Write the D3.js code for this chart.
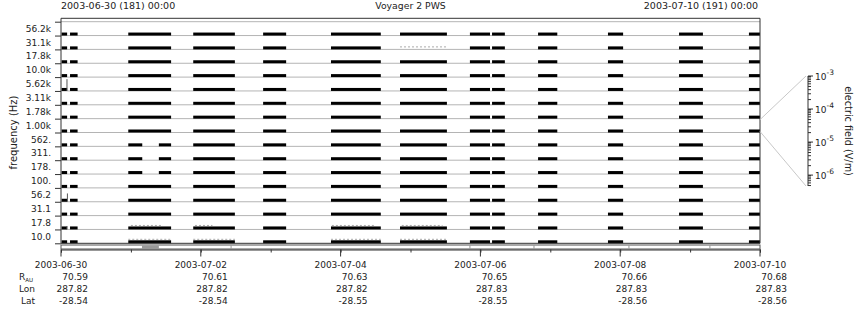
<!DOCTYPE html>
<html><head><meta charset="utf-8">
<script src="https://cdn.jsdelivr.net/npm/d3@7"></script>
<style>
body{margin:0;background:#fff;}
svg{display:block;}
text{font-family:"DejaVu Sans",sans-serif;fill:#222;}
</style></head>
<body><svg id="c" width="860" height="320"></svg>
<script>
// ---------------- data ----------------
const channels = ["56.2k","31.1k","17.8k","10.0k","5.62k","3.11k","1.78k","1.00k","562.","311.","178.","100.","56.2","31.1","17.8","10.0"];
const startTime = "2003-06-30T00:00:00Z";
const endTime = "2003-07-10T00:00:00Z";
const headerLeft = "2003-06-30 (181) 00:00";
const headerRight = "2003-07-10 (191) 00:00";
const title = "Voyager 2 PWS";
// data segments (hours since start) at background level
const segStart = [0.2, 3.1, 23.1, 45.4, 69.4, 92.7, 116.4, 140.4, 148.0, 163.8, 187.8, 212.2, 236.2];
const segEnd   = [2.1, 5.7, 37.8, 59.7, 77.3, 109.8, 132.5, 147.3, 152.4, 170.4, 193.0, 220.4, 240.0];
// channels with a data gap inside the third block
const gapChannels = ["562.","311.","178."];
const gapHours = [27.9, 33.6];
// segments shown as faint dotted (slightly raised) traces
const faintChannel = ["31.1k","17.8","17.8","17.8","17.8","10.0","10.0","10.0","10.0"];
const faintStart   = [116.4, 24.0, 46.0, 93.0, 117.0, 23.1, 45.4, 92.7, 116.4];
const faintEnd     = [132.5, 35.0, 52.0, 108.0, 131.0, 37.8, 59.7, 109.8, 132.5];
const replacedChannel = "31.1k"; const replacedSeg = 6;
// spikes: channel, hour, fraction of band height
const spikeChannel = ["5.62k","56.2","17.8"];
const spikeHour = [2.05, 2.2, 2.05];
const spikeFrac = [0.85, 0.6, 0.25];
// bottom axis info
const dateTicks = ["2003-06-30","2003-07-02","2003-07-04","2003-07-06","2003-07-08","2003-07-10"];
const rauVals = ["70.59","70.61","70.63","70.65","70.66","70.68"];
const lonVals = ["287.82","287.82","287.82","287.83","287.83","287.83"];
const latVals = ["-28.54","-28.54","-28.55","-28.55","-28.56","-28.56"];
// coverage strip
const coverageHighlight = [27.8, 33.6];
const coverageMarks = [58.4, 140.4, 162.4, 195.0, 222.8];
// colorbar
const cbarDomain = [1e-3, Math.pow(10,-6.33)];
const cbarDecades = [-3,-4,-5,-6];
const linkedChannel = "1.00k";

// ---------------- layout ----------------
const svg = d3.select("#c");
const L = 61, R = 760, T = 21.7, B = 243.3;
const t0 = new Date(startTime), t1 = new Date(endTime);
const x = d3.scaleUtc().domain([t0, t1]).range([L, R]);
const hx = h => x(new Date(t0.getTime() + h*3600e3));
const yb = d3.scaleBand().domain(channels).range([T, B]).padding(0);
const base = c => yb(c) + yb.bandwidth();

// frame top line
svg.append("line").attr("x1",L).attr("x2",R).attr("y1",18.3).attr("y2",18.3).attr("stroke","#333");
// gridlines
svg.append("line").attr("x1",L).attr("x2",R).attr("y1",T).attr("y2",T).attr("stroke","#b4b4b4");
svg.append("g").selectAll("line").data(channels.slice(0,15)).join("line")
  .attr("x1",L).attr("x2",R).attr("y1",c=>base(c)).attr("y2",c=>base(c)).attr("stroke","#b4b4b4");

// bars
const bars = [];
channels.forEach(c=>{
  segStart.forEach((s,i)=>{
    const e = segEnd[i];
    if (c===replacedChannel && i===replacedSeg) return;
    if (gapChannels.includes(c) && s < gapHours[0] && e > gapHours[1]) {
      bars.push({c, s, e:gapHours[0]}); bars.push({c, s:gapHours[1], e});
    } else bars.push({c,s,e});
  });
});
svg.append("g").selectAll("rect").data(bars).join("rect")
  .attr("x",d=>hx(d.s)).attr("width",d=>hx(d.e)-hx(d.s))
  .attr("y",d=>base(d.c)-3).attr("height",3).attr("fill","#000");

// faint traces
svg.append("g").selectAll("line").data(faintChannel.map((c,i)=>({c,s:faintStart[i],e:faintEnd[i]}))).join("line")
  .attr("x1",d=>hx(d.s)).attr("x2",d=>hx(d.e))
  .attr("y1",d=>base(d.c)-(d.c===replacedChannel?2.5:4)).attr("y2",d=>base(d.c)-(d.c===replacedChannel?2.5:4))
  .attr("stroke","#aaa").attr("stroke-width",1).attr("stroke-dasharray","2,2");

// spikes
svg.append("g").selectAll("line").data(spikeChannel.map((c,i)=>({c,h:spikeHour[i],f:spikeFrac[i]}))).join("line")
  .attr("x1",d=>hx(d.h)).attr("x2",d=>hx(d.h))
  .attr("y1",d=>base(d.c)).attr("y2",d=>base(d.c)-d.f*yb.bandwidth())
  .attr("stroke","#555").attr("stroke-width",1);

// frame
svg.append("line").attr("x1",L).attr("x2",L).attr("y1",18.3).attr("y2",B).attr("stroke","#333");
svg.append("line").attr("x1",R).attr("x2",R).attr("y1",18.3).attr("y2",B).attr("stroke","#333");
svg.append("line").attr("x1",L).attr("x2",R).attr("y1",B).attr("y2",B).attr("stroke","#333");

// left ticks at band boundaries
const yl = d3.scaleLinear().domain([0,channels.length]).range([T,B]);
svg.append("g").attr("transform",`translate(${L},0)`)
  .call(d3.axisLeft(yl).tickValues(d3.range(0,channels.length+1)).tickSize(6).tickFormat(""))
  .call(g=>{g.select(".domain").remove(); g.selectAll("line").attr("stroke","#333");});
svg.append("g").selectAll("text").data(channels).join("text")
  .attr("x",51).attr("y",c=>yb(c)+yb.bandwidth()/2).attr("dy","0.35em")
  .attr("text-anchor","end").attr("font-size","9px").text(c=>c);

// y label
svg.append("text").attr("transform",`translate(17,${(T+B)/2}) rotate(-90)`)
  .attr("text-anchor","middle").attr("font-size","10px").text("frequency (Hz)");

// header
svg.append("text").attr("x",L).attr("y",9).attr("font-size","9.5px").text(headerLeft);
svg.append("text").attr("x",R-2).attr("y",9).attr("text-anchor","end").attr("font-size","9.5px").text(headerRight);
svg.append("text").attr("x",(L+R)/2).attr("y",9).attr("text-anchor","middle").attr("font-size","9.3px").text(title);

// coverage strip
svg.append("rect").attr("x",L).attr("y",245).attr("width",R-L).attr("height",4).attr("fill","#fff").attr("stroke","#555").attr("stroke-width",1);
svg.append("rect").attr("x",hx(coverageHighlight[0])).attr("y",245.5).attr("width",hx(coverageHighlight[1])-hx(coverageHighlight[0])).attr("height",3.5).attr("fill","#999");
svg.append("g").selectAll("line").data(coverageMarks).join("line")
  .attr("x1",d=>hx(d)).attr("x2",d=>hx(d)).attr("y1",245).attr("y2",249).attr("stroke","#999");

// bottom axis
const xa = svg.append("g").attr("transform","translate(0,249.5)");
xa.call(d3.axisBottom(x).ticks(d3.utcDay.every(1)).tickSize(3).tickFormat(""))
  .call(g=>{g.select(".domain").attr("stroke","#333"); g.selectAll(".tick line").attr("stroke","#333");});
const majors = dateTicks.map(d=>new Date(d+"T00:00:00Z"));
xa.append("g").selectAll("line").data(majors).join("line")
  .attr("x1",d=>x(d)).attr("x2",d=>x(d)).attr("y1",0).attr("y2",7).attr("stroke","#333");

const rowY = [267.5, 279.5, 291.5, 303.5];
const rows = [dateTicks, rauVals, lonVals, latVals];
rows.forEach((vals,ri)=>{
  svg.append("g").selectAll("text").data(vals).join("text")
    .attr("x",(v,i)=> ri===0 ? x(majors[i]) : x(majors[i])+27)
    .attr("y",rowY[ri]).attr("text-anchor", ri===0?"middle":"end")
    .attr("font-size","9px").text(v=>v);
});
const rl = svg.append("text").attr("x",19).attr("y",rowY[1]).attr("font-size","9px");
rl.append("tspan").text("R");
rl.append("tspan").attr("dy",2).attr("font-size","5.5px").text("AU");
svg.append("text").attr("x",35).attr("y",rowY[2]).attr("text-anchor","end").attr("font-size","9px").text("Lon");
svg.append("text").attr("x",35).attr("y",rowY[3]).attr("text-anchor","end").attr("font-size","9px").text("Lat");

// colorbar axis
const cb = d3.scaleLog().domain(cbarDomain).range([76,186]);
const cbX = 808;
const minorTicks = [];
[-3,-4,-5,-6,-7].forEach(p=>{for(let k=1;k<10;k++){const v=k*Math.pow(10,p); if(v<=cbarDomain[0]*1.0001 && v>=cbarDomain[1]) minorTicks.push(v);}});
svg.append("g").attr("transform",`translate(${cbX},0)`)
  .call(d3.axisRight(cb).tickValues(minorTicks).tickSize(3).tickFormat(""))
  .call(g=>{g.select(".domain").attr("stroke","#333").attr("d",`M0,${cb(cbarDomain[0])}V${cb(cbarDomain[1])}`); g.selectAll(".tick line").attr("stroke","#333");});
svg.append("g").selectAll("line").data(cbarDecades).join("line")
  .attr("x1",cbX).attr("x2",cbX+5).attr("y1",p=>cb(Math.pow(10,p))).attr("y2",p=>cb(Math.pow(10,p))).attr("stroke","#333");
const cl = svg.append("g").selectAll("text").data(cbarDecades).join("text")
  .attr("x",815).attr("y",p=>cb(Math.pow(10,p))+4).attr("font-size","9px");
cl.append("tspan").text("10");
cl.append("tspan").attr("dy",-5).attr("font-size","7.5px").text(p=>String(p));
svg.append("text").attr("transform",`translate(845,${(76+186)/2}) rotate(90)`)
  .attr("text-anchor","middle").attr("font-size","9.7px").text("electric field (V/m)");

// connector lines
svg.append("line").attr("x1",R).attr("y1",yb(linkedChannel)+1).attr("x2",806).attr("y2",cb(cbarDomain[0])).attr("stroke","#c8c8c8");
svg.append("line").attr("x1",R).attr("y1",base(linkedChannel)-1).attr("x2",806).attr("y2",cb(cbarDomain[1])).attr("stroke","#c8c8c8");
</script></body></html>
